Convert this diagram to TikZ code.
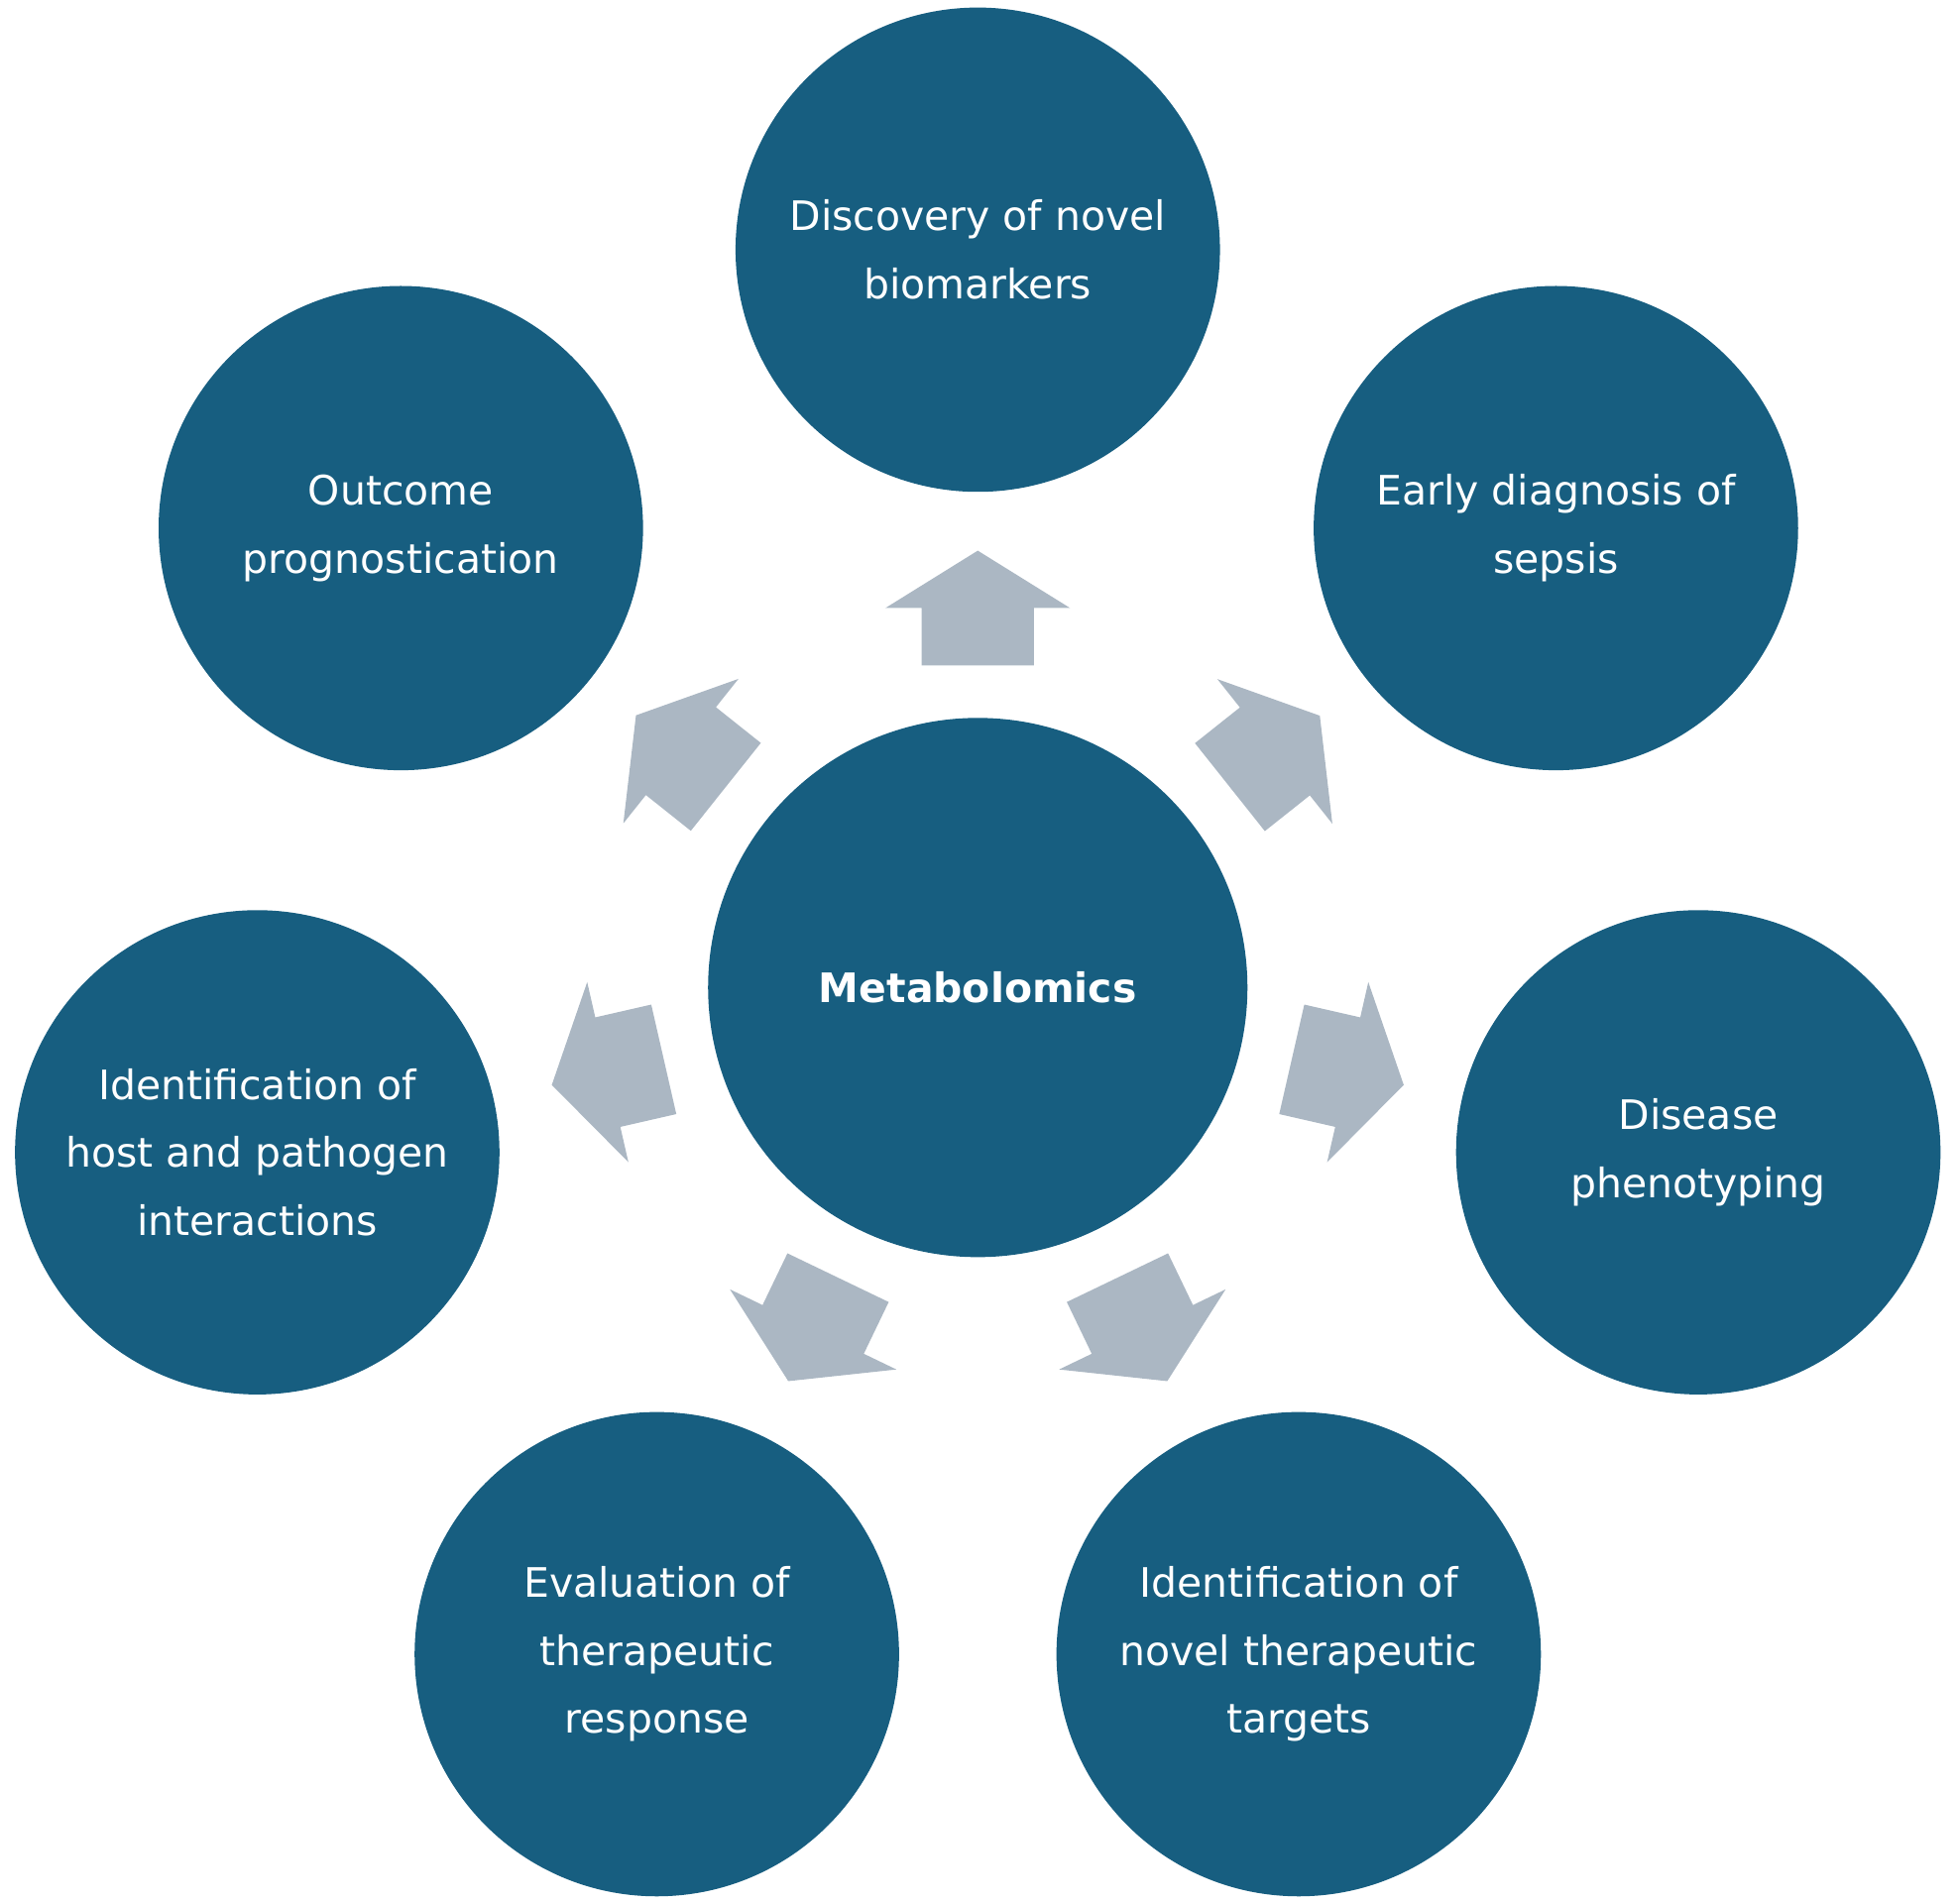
\documentclass[tikz,border=0pt]{standalone}
\usepackage{fontspec}
\setmainfont{DejaVu Sans}
\usetikzlibrary{calc}
\definecolor{circ}{HTML}{175E80}
\definecolor{arr}{HTML}{ABB7C3}
\begin{document}
\begin{tikzpicture}[x=0.02cm,y=-0.02cm,
  bub/.style={circle,fill=circ,text=white,align=center,font=\fontsize{18.5}{31}\selectfont,inner sep=0pt},
  arrowsty/.style={fill=arr,draw=none}]
\useasboundingbox (0,0) rectangle (1568,1525);
\node[bub,minimum size=8.64cm,font=\bfseries\fontsize{18.5}{31}\selectfont] (c) at (783,791) {Metabolomics};
\node[bub,minimum size=7.76cm] (t1) at (783,200) {Discovery of novel\\biomarkers};
\node[bub,minimum size=7.76cm] (t2) at (1246,423) {Early diagnosis of\\sepsis};
\node[bub,minimum size=7.76cm] (t3) at (1360,923) {Disease\\phenotyping};
\node[bub,minimum size=7.76cm] (t4) at (1040,1325) {Identification of\\novel therapeutic\\targets};
\node[bub,minimum size=7.76cm] (t5) at (526,1325) {Evaluation of\\therapeutic\\response};
\node[bub,minimum size=7.76cm] (t6) at (206,923) {Identification of\\host and pathogen\\interactions};
\node[bub,minimum size=7.76cm] (t7) at (321,423) {Outcome\\prognostication};
\foreach \t in {t1,t2,t3,t4,t5,t6,t7}{
  \fill[arrowsty] let \p1=($(\t.center)-(c.center)$), \n1={atan2(\y1,\x1)} in
    [shift={(c.center)}, rotate=\n1]
    (5.16cm,-0.9cm)--(6.08cm,-0.9cm)--(6.08cm,-1.48cm)--(7.0cm,0cm)--(6.08cm,1.48cm)--(6.08cm,0.9cm)--(5.16cm,0.9cm)--cycle;
}
\end{tikzpicture}
\end{document}
